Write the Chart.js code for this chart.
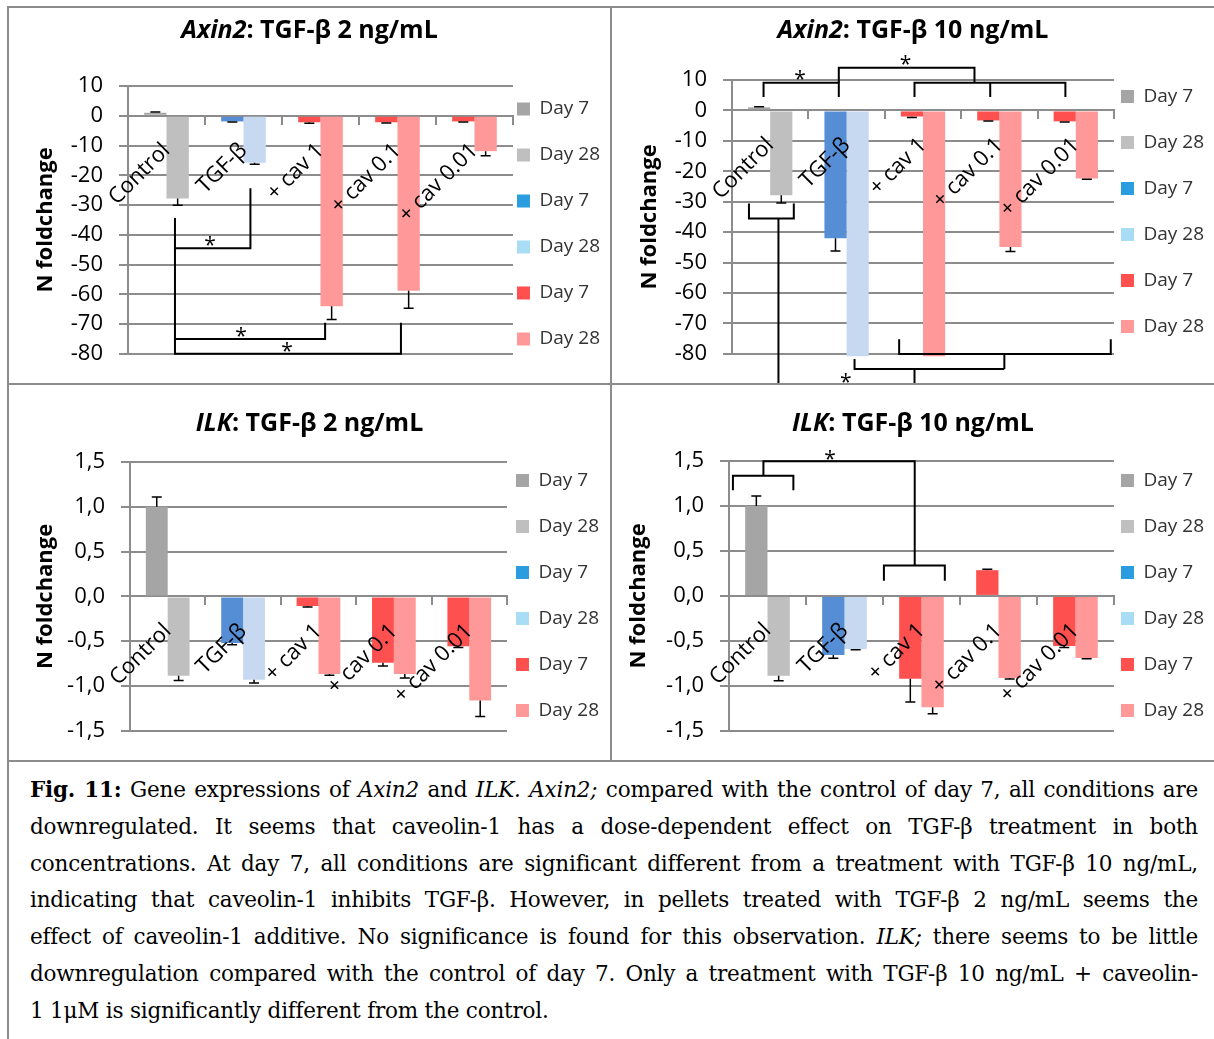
<!DOCTYPE html>
<html>
<head>
<meta charset="utf-8">
<title>Fig. 11 - Axin2 and ILK</title>
<script src="https://cdn.jsdelivr.net/npm/chart.js@4.4.1/dist/chart.umd.min.js"></script>
<style>
  body { margin: 0; background: #fff; }
  #fig { position: relative; width: 1214px; height: 1039px; overflow: hidden; }
  .rule { position: absolute; background: #8c8c8c; }
  canvas { position: absolute; }
  .ttl { position: absolute; text-align: center; font: bold 25px/25px "Open Sans", sans-serif; color: #000; }
  #caption { position: absolute; left: 30px; top: 772px; width: 1168px; font: 21.5px/36.8px "DejaVu Serif", serif; letter-spacing: -0.2px; color: #000; }
  #caption div { text-align: justify; text-align-last: justify; }
  #caption div.last { text-align-last: left; }
</style>
</head>
<body>
<div id="fig">
  <canvas id="axin2Low" width="601" height="375" style="left:9px;top:8px"></canvas>
  <canvas id="axin2High" width="602" height="375" style="left:612px;top:8px"></canvas>
  <canvas id="ilkLow" width="601" height="375" style="left:9px;top:385px"></canvas>
  <canvas id="ilkHigh" width="602" height="375" style="left:612px;top:385px"></canvas>

  <div class="ttl" style="left:9px;top:16px;width:601px"><i>Axin2</i>: TGF-β 2 ng/mL</div>
  <div class="ttl" style="left:612px;top:16px;width:602px"><i>Axin2</i>: TGF-β 10 ng/mL</div>
  <div class="ttl" style="left:9px;top:409px;width:601px"><i>ILK</i>: TGF-β 2 ng/mL</div>
  <div class="ttl" style="left:612px;top:409px;width:602px"><i>ILK</i>: TGF-β 10 ng/mL</div>

  <div class="rule" style="left:7px;top:6px;width:1207px;height:2px"></div>
  <div class="rule" style="left:7px;top:6px;width:2px;height:1033px"></div>
  <div class="rule" style="left:610px;top:6px;width:2px;height:756px"></div>
  <div class="rule" style="left:7px;top:383px;width:1207px;height:2px"></div>
  <div class="rule" style="left:7px;top:760px;width:1207px;height:2px"></div>

  <div id="caption">
    <div><b>Fig. 11:</b> Gene expressions of <i>Axin2</i> and <i>ILK. Axin2;</i> compared with the control of day 7, all conditions are</div>
    <div>downregulated. It seems that caveolin-1 has a dose-dependent effect on TGF-β treatment in both</div>
    <div>concentrations. At day 7, all conditions are significant different from a treatment with TGF-β 10 ng/mL,</div>
    <div>indicating that caveolin-1 inhibits TGF-β. However, in pellets treated with TGF-β 2 ng/mL seems the</div>
    <div>effect of caveolin-1 additive. No significance is found for this observation. <i>ILK;</i> there seems to be little</div>
    <div>downregulation compared with the control of day 7. Only a treatment with TGF-β 10 ng/mL + caveolin-</div>
    <div class="last">1 1μM is significantly different from the control.</div>
  </div>
</div>

<script>
Chart.defaults.font.family = '"Open Sans", sans-serif';
Chart.defaults.color = '#000';

const groups = ['Control', 'TGF-β', '+ cav 1', '+ cav 0.1', '+ cav 0.01'];
const legendLabels = ['Day 7', 'Day 28', 'Day 7', 'Day 28', 'Day 7', 'Day 28'];
const legendColors = ['#a5a5a5', '#bfbfbf', '#2a9de0', '#a9dcf5', '#ff5050', '#ff9999'];
const day7Colors = ['#a5a5a5', '#558ed5', '#ff5050', '#ff5050', '#ff5050'];
const day28Colors = ['#bfbfbf', '#c6d9f1', '#ff9999', '#ff9999', '#ff9999'];

// Axin2, TGF-β 2 ng/mL
const axin2LowDay7 = [1.0, -1.9, -2.2, -2.2, -1.9];
const axin2LowDay7Err = [0.3, 0.2, 0.3, 0.2, 0.2];
const axin2LowDay28 = [-27.8, -15.8, -64.0, -58.8, -11.9];
const axin2LowDay28Err = [2.3, 0.5, 4.5, 5.9, 1.5];

// Axin2, TGF-β 10 ng/mL
const axin2HighDay7 = [1.0, -42.0, -2.0, -3.3, -3.6];
const axin2HighDay7Err = [0.2, 4.2, 0.3, 0.2, 0.2];
const axin2HighDay28 = [-27.9, -80.8, -80.8, -44.9, -22.4];
const axin2HighDay28Err = [2.5, 0, 0, 1.5, 0.2];

// ILK, TGF-β 2 ng/mL
const ilkLowDay7 = [1.0, -0.52, -0.107, -0.74, -0.556];
const ilkLowDay7Err = [0.11, 0.02, 0.01, 0.038, 0.014];
const ilkLowDay28 = [-0.886, -0.93, -0.867, -0.867, -1.163];
const ilkLowDay28Err = [0.054, 0.036, 0.013, 0.043, 0.177];

// ILK, TGF-β 10 ng/mL
const ilkHighDay7 = [1.0, -0.657, -0.92, 0.286, -0.558];
const ilkHighDay7Err = [0.11, 0.037, 0.26, 0.011, 0.017];
const ilkHighDay28 = [-0.889, -0.59, -1.237, -0.914, -0.69];
const ilkHighDay28Err = [0.055, 0.01, 0.073, 0.011, 0.01];

// y axes: [min, max, step]
const axin2Axis = [-80, 10, 10];
const ilkAxis = [-1.5, 1.5, 0.5];

// significance brackets as [category position, value] polylines
const axin2LowLines = [
  [[0.11, -34.4], [0.11, -44.5], [1.09, -44.5], [1.09, -24.4]],
  [[0.11, -44.5], [0.11, -80], [3.045, -80], [3.045, -69.6]],
  [[0.11, -75], [2.06, -75], [2.06, -69.6]]
];
const axin2LowStars = [[0.565, -41.8], [0.968, -72.2], [1.565, -77.3]];

const axin2HighLines = [
  [[-0.087, 4.4], [-0.087, 9.1], [0.898, 9.1], [0.898, 4.4]],
  [[0.898, 9.1], [0.898, 14.0], [2.674, 14.0], [2.674, 9.1]],
  [[1.889, 4.4], [1.889, 9.1], [3.864, 9.1], [3.864, 4.4]],
  [[2.88, 9.1], [2.88, 4.4]],
  [[-0.278, -30.6], [-0.278, -35.5], [0.309, -35.5], [0.309, -30.6]],
  [[0.108, -35.5], [0.108, -90]],
  [[1.688, -75.2], [1.688, -80.1], [4.458, -80.1], [4.458, -75.2]],
  [[3.065, -80.1], [3.065, -85]],
  [[1.104, -81.7], [1.104, -85], [3.065, -85]],
  [[1.889, -85], [1.889, -90]]
];
const axin2HighStars = [[0.392, 12.0], [1.773, 16.9], [0.988, -87.5]];

const ilkHighLines = [
  [[-0.449, 1.175], [-0.449, 1.336], [0.336, 1.336], [0.336, 1.175]],
  [[-0.053, 1.336], [-0.053, 1.498], [1.912, 1.498], [1.912, 0.338]],
  [[1.512, 0.168], [1.512, 0.338], [2.303, 0.338], [2.303, 0.168]]
];
const ilkHighStars = [[0.812, 1.575]];

const gridGray = '#8c8c8c';

// one-sided error bars, pointing away from zero
function errorBars(errs) {
  return {
    id: 'errorBars',
    afterDatasetsDraw(chart) {
      const { ctx } = chart;
      const y = chart.scales.y;
      ctx.save();
      ctx.strokeStyle = '#000';
      ctx.lineWidth = 1.5;
      errs.forEach((list, d) => {
        const values = chart.data.datasets[d].data;
        chart.getDatasetMeta(d).data.forEach((bar, i) => {
          const e = list[i];
          if (!e) return;
          const v = values[i];
          const y0 = y.getPixelForValue(v);
          const y1 = y.getPixelForValue(v < 0 ? v - e : v + e);
          ctx.beginPath();
          ctx.moveTo(bar.x, y0);
          ctx.lineTo(bar.x, y1);
          ctx.moveTo(bar.x - 5, y1);
          ctx.lineTo(bar.x + 5, y1);
          ctx.stroke();
        });
      });
      ctx.restore();
    }
  };
}

function brackets(lines, stars) {
  return {
    id: 'brackets',
    afterDatasetsDraw(chart) {
      const { ctx } = chart;
      const { x, y } = chart.scales;
      ctx.save();
      ctx.strokeStyle = '#000';
      ctx.lineWidth = 2;
      lines.forEach(pts => {
        ctx.beginPath();
        pts.forEach(([c, v], k) => {
          const px = x.getPixelForValue(c);
          const py = y.getPixelForValue(v);
          if (k) ctx.lineTo(px, py); else ctx.moveTo(px, py);
        });
        ctx.stroke();
      });
      ctx.fillStyle = '#000';
      ctx.font = '21px "Open Sans"';
      ctx.textAlign = 'center';
      ctx.textBaseline = 'alphabetic';
      stars.forEach(([c, v]) => ctx.fillText('*', x.getPixelForValue(c), y.getPixelForValue(v) + 12));
      ctx.restore();
    }
  };
}

function drawPanel(id, p, box) {
  const [min, max, step] = p.axis;
  new Chart(document.getElementById(id), {
    type: 'bar',
    data: {
      labels: groups,
      datasets: [
        { label: 'Day 7', data: p.day7, backgroundColor: day7Colors, clip: false },
        { label: 'Day 28', data: p.day28, backgroundColor: day28Colors, clip: false }
      ]
    },
    options: {
      responsive: false,
      animation: false,
      devicePixelRatio: 1,
      events: [],
      datasets: { bar: { barPercentage: 1, categoryPercentage: 0.58, borderWidth: 0 } },
      layout: { padding: { left: box.left, right: box.right, top: box.top, bottom: box.bottom } },
      scales: {
        x: {
          type: 'category',
          position: { y: 0 },
          grid: { drawOnChartArea: false, drawTicks: true, tickLength: 8, color: gridGray, lineWidth: 2 },
          border: { color: gridGray, width: 2 },
          ticks: { autoSkip: false, minRotation: 45, maxRotation: 45, padding: 14, z: 1, color: '#000', font: { size: 22 } }
        },
        y: {
          min: min,
          max: max,
          afterFit: scale => { scale.width = box.axisWidth; },
          grid: { color: gridGray, lineWidth: 2, tickLength: 9 },
          border: { color: gridGray, width: 2 },
          ticks: {
            stepSize: step,
            padding: 16,
            color: '#000',
            font: { size: 22 },
            callback: v => (step < 1 ? v.toFixed(1).replace('.', ',') : String(v))
          },
          title: { display: true, text: 'N foldchange', color: '#000', font: { size: 22, weight: 'bold' }, padding: { top: 1, bottom: 0 } }
        }
      },
      plugins: {
        tooltip: { enabled: false },
        legend: {
          position: 'right',
          align: 'start',
          fullSize: false,
          title: { display: box.legendShift > 0, text: '', padding: 0, font: { size: box.legendShift || 1, lineHeight: 1 } },
          labels: {
            boxWidth: 13,
            boxHeight: 13,
            padding: box.legendGap,
            color: '#333',
            font: { size: 19, lineHeight: (46 - box.legendGap) / 19 },
            // one-line arrays step by font.lineHeight, which sets the row pitch;
            // the last entry stays a plain string so it never opens a new column
            generateLabels: () => legendLabels.map((text, i) => ({
              text: i < legendLabels.length - 1 ? [text] : text,
              fillStyle: legendColors[i],
              strokeStyle: legendColors[i],
              lineWidth: 0,
              fontColor: '#333',
              hidden: false,
              datasetIndex: i % 2
            }))
          }
        }
      }
    },
    plugins: [errorBars([p.day7Err, p.day28Err]), brackets(p.lines, p.stars)]
  });
}

drawPanel('axin2Low',
  { day7: axin2LowDay7, day7Err: axin2LowDay7Err, day28: axin2LowDay28, day28Err: axin2LowDay28Err,
    axis: axin2Axis, lines: axin2LowLines, stars: axin2LowStars },
  { left: 23, axisWidth: 96, right: 0, top: 78, bottom: 28, legendGap: 4, legendShift: 9.5 });

drawPanel('axin2High',
  { day7: axin2HighDay7, day7Err: axin2HighDay7Err, day28: axin2HighDay28, day28Err: axin2HighDay28Err,
    axis: axin2Axis, lines: axin2HighLines, stars: axin2HighStars },
  { left: 24, axisWidth: 96, right: 0, top: 72, bottom: 28, legendGap: 7, legendShift: 0 });

drawPanel('ilkLow',
  { day7: ilkLowDay7, day7Err: ilkLowDay7Err, day28: ilkLowDay28, day28Err: ilkLowDay28Err,
    axis: ilkAxis, lines: [], stars: [] },
  { left: 23, axisWidth: 98, right: 1, top: 77, bottom: 28, legendGap: 9, legendShift: 0 });

drawPanel('ilkHigh',
  { day7: ilkHighDay7, day7Err: ilkHighDay7Err, day28: ilkHighDay28, day28Err: ilkHighDay28Err,
    axis: ilkAxis, lines: ilkHighLines, stars: ilkHighStars },
  { left: 13, axisWidth: 104, right: 0, top: 76, bottom: 27, legendGap: 7, legendShift: 3 });
</script>
</body>
</html>
